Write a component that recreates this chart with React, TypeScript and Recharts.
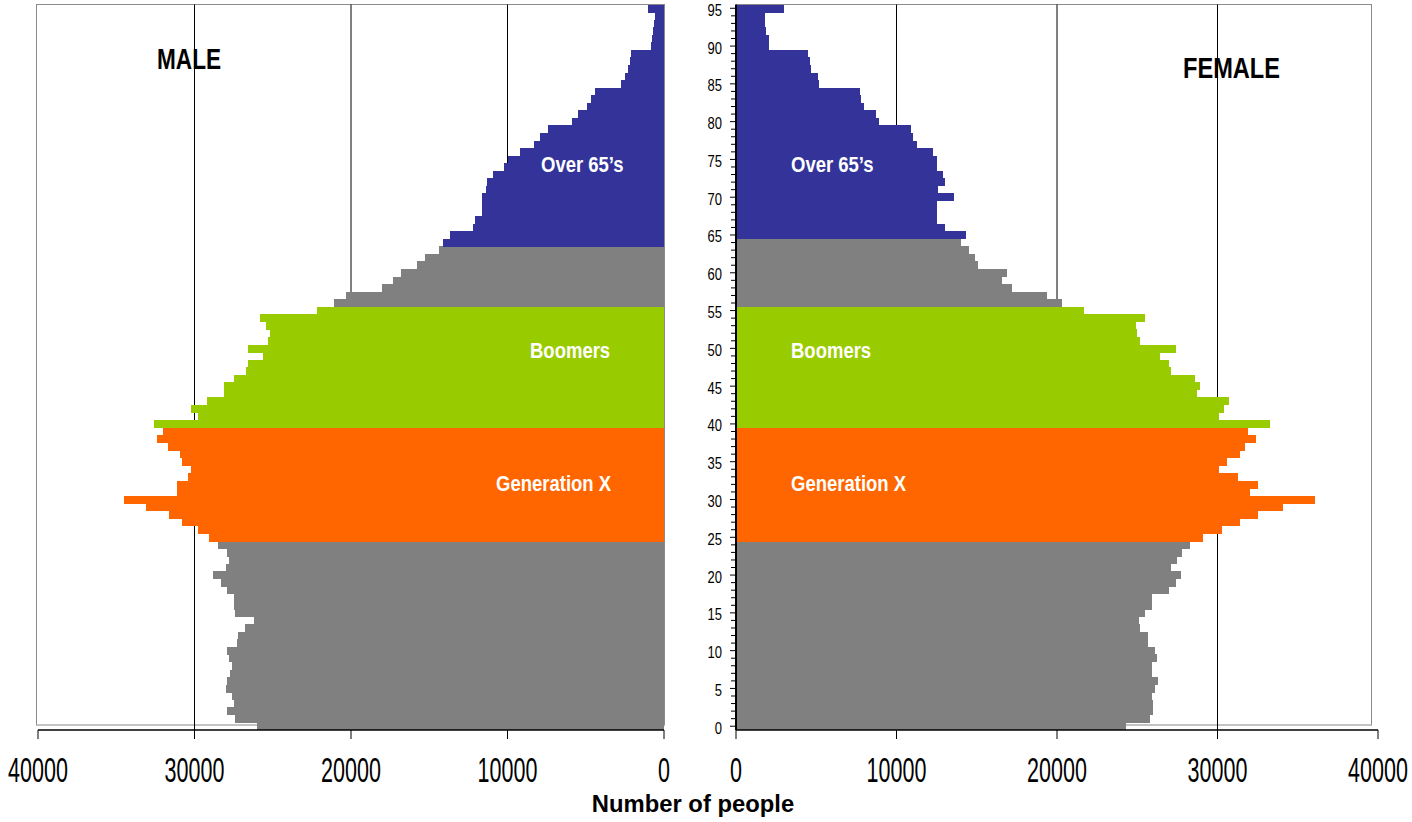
import React from 'react';
import { BarChart, Bar, XAxis, YAxis, CartesianGrid, Cell } from 'recharts';

// ages 0..95, bottom to top
const ages = [
  0, 1, 2, 3, 4, 5, 6, 7, 8, 9,
  10, 11, 12, 13, 14, 15, 16, 17, 18, 19,
  20, 21, 22, 23, 24, 25, 26, 27, 28, 29,
  30, 31, 32, 33, 34, 35, 36, 37, 38, 39,
  40, 41, 42, 43, 44, 45, 46, 47, 48, 49,
  50, 51, 52, 53, 54, 55, 56, 57, 58, 59,
  60, 61, 62, 63, 64, 65, 66, 67, 68, 69,
  70, 71, 72, 73, 74, 75, 76, 77, 78, 79,
  80, 81, 82, 83, 84, 85, 86, 87, 88, 89,
  90, 91, 92, 93, 94, 95,
];

const maleCounts = [
  26000, 27400, 27900, 27500, 27600, 28000, 27900, 27700, 27600, 27800,
  27900, 27300, 27200, 26800, 26200, 27400, 27500, 27500, 27900, 28300,
  28800, 28000, 27800, 27900, 28500, 29100, 29800, 30800, 31600, 33100,
  34500, 31100, 31100, 30400, 30200, 30800, 30900, 31700, 32400, 32000,
  32600, 29800, 30200, 29200, 28100, 28100, 27500, 26700, 26600, 25600,
  26600, 25300, 25200, 25400, 25800, 22200, 21100, 20300, 18000, 17300,
  16800, 15800, 15300, 14400, 14100, 13700, 12200, 12100, 11600, 11600,
  11600, 11400, 11300, 10900, 10200, 10000, 9200, 8300, 7900, 7400,
  5900, 5500, 4900, 4650, 4400, 2750, 2500, 2300, 2170, 2100,
  860, 780, 730, 650, 600, 1000,
];

const femaleCounts = [
  24300, 25800, 26000, 26000, 25900, 26100, 26300, 25900, 25900, 26200,
  26100, 25700, 25700, 25200, 25100, 25500, 25900, 25900, 27000, 27400,
  27700, 27100, 27500, 27800, 28300, 29100, 30300, 31400, 32500, 34100,
  36100, 32000, 32500, 31300, 30100, 30600, 31400, 31700, 32400, 31900,
  33300, 30100, 30400, 30700, 28700, 28900, 28600, 27100, 27000, 26400,
  27400, 25200, 25000, 24900, 25500, 21700, 20300, 19400, 17200, 16600,
  16900, 15100, 14900, 14500, 14000, 14300, 13000, 12500, 12500, 12500,
  13600, 12600, 13000, 12900, 12500, 12500, 12300, 11300, 11000, 10900,
  8900, 8700, 8000, 7800, 7700, 5200, 5100, 4700, 4600, 4500,
  2060, 2060, 1900, 1830, 1830, 3000,
];

const xTicks = [0, 10000, 20000, 30000, 40000];
const gridValues = [10000, 20000, 30000];
const ageLabels = [0, 5, 10, 15, 20, 25, 30, 35, 40, 45, 50, 55, 60, 65, 70, 75, 80, 85, 90, 95];

// generation bands (inclusive ages)
const genXAges = [25, 39];
const boomerAges = [40, 55];
const maleOver65From = 64;
const femaleOver65From = 65;

const COLORS = {
  other: '#808080',
  genX: '#FF6600',
  boomers: '#99CC00',
  over65: '#333399',
};

const FONT = '"Liberation Sans", Arial, sans-serif';

const rows = ages.map((age, i) => ({ age, male: maleCounts[i], female: femaleCounts[i] }));

const colorFor = (age: number, over65From: number) => {
  if (age >= over65From) return COLORS.over65;
  if (age >= boomerAges[0] && age <= boomerAges[1]) return COLORS.boomers;
  if (age >= genXAges[0] && age <= genXAges[1]) return COLORS.genX;
  return COLORS.other;
};

const XTick = ({ x, y, payload }: any) => (
  <text
    transform={`translate(${x},${y + 43}) scale(1,1.62)`}
    textAnchor="middle"
    fontSize={21.5}
    fontFamily={FONT}
    fill="#000"
  >
    {payload.value}
  </text>
);

const AgeTick = ({ x, y, payload }: any) => {
  const major = ageLabels.includes(payload.value);
  return (
    <g>
      <line x1={x - (major ? 6 : 5)} x2={x} y1={y} y2={y} stroke="#000" strokeWidth={1} />
      {major && (
        <text
          transform={`translate(${x - 14},${y + 7.5}) scale(1,1.3)`}
          textAnchor="end"
          fontSize={13}
          fontFamily={FONT}
          fill="#000"
        >
          {payload.value}
        </text>
      )}
    </g>
  );
};

const boxStyle = (left: number, width: number): React.CSSProperties => ({
  position: 'absolute',
  left,
  top: 4,
  width,
  height: 722,
  boxSizing: 'border-box',
  borderTop: '1px solid #8a8a8a',
  borderLeft: '1px solid #8a8a8a',
  borderRight: '1px solid #8a8a8a',
  borderBottom: '2px solid #c4c4c4',
  zIndex: 0,
});

const whiteLabel = { fill: '#fff', fontFamily: FONT, fontWeight: 700, fontSize: 18.5 };

export default function App() {
  return (
    <div style={{ position: 'absolute', left: 0, top: 0, width: 1412, height: 822, background: '#fff' }}>
      <div style={boxStyle(36, 629)} />
      <div style={boxStyle(736, 636)} />

      {/* male */}
      <div style={{ position: 'absolute', left: 0, top: 0, zIndex: 1 }}>
        <BarChart
          width={680}
          height={822}
          data={rows}
          layout="vertical"
          margin={{ top: 4.5, right: 16, bottom: 32, left: 38 }}
          barCategoryGap={0}
          barGap={0}
        >
          <CartesianGrid horizontal={false} stroke="#000" verticalValues={gridValues} />
          <XAxis
            type="number"
            domain={[0, 40000]}
            ticks={xTicks}
            interval={0}
            reversed
            height={60}
            tickSize={9}
            tickMargin={0}
            tickLine={{ stroke: '#000' }}
            axisLine={{ stroke: '#000', strokeWidth: 1.5 }}
            tick={(p: any) => <XTick {...p} />}
          />
          <YAxis type="category" dataKey="age" reversed hide />
          <Bar dataKey="male" isAnimationActive={false} shapeRendering="crispEdges">
            {rows.map((r) => (
              <Cell key={r.age} fill={colorFor(r.age, maleOver65From)} shapeRendering="crispEdges" />
            ))}
          </Bar>
        </BarChart>
      </div>

      {/* female */}
      <div style={{ position: 'absolute', left: 676, top: 0, zIndex: 1 }}>
        <BarChart
          width={736}
          height={822}
          data={rows}
          layout="vertical"
          margin={{ top: 4.5, right: 34, bottom: 32, left: 0 }}
          barCategoryGap={0}
          barGap={0}
        >
          <CartesianGrid horizontal={false} stroke="#000" verticalValues={gridValues} />
          <XAxis
            type="number"
            domain={[0, 40000]}
            ticks={xTicks}
            interval={0}
            height={60}
            tickSize={9}
            tickMargin={0}
            tickLine={{ stroke: '#000' }}
            axisLine={{ stroke: '#000', strokeWidth: 1.5 }}
            tick={(p: any) => <XTick {...p} />}
          />
          <YAxis
            type="category"
            dataKey="age"
            reversed
            width={60}
            interval={0}
            tickSize={0}
            tickMargin={0}
            tickLine={false}
            axisLine={{ stroke: '#000', strokeWidth: 2 }}
            tick={(p: any) => <AgeTick {...p} />}
          />
          <Bar dataKey="female" isAnimationActive={false} shapeRendering="crispEdges">
            {rows.map((r) => (
              <Cell key={r.age} fill={colorFor(r.age, femaleOver65From)} shapeRendering="crispEdges" />
            ))}
          </Bar>
        </BarChart>
      </div>

      {/* free text */}
      <svg width={1412} height={822} style={{ position: 'absolute', left: 0, top: 0, zIndex: 2, pointerEvents: 'none' }}>
        <text transform="translate(157,69) scale(1,1.3)" fontFamily={FONT} fontWeight={700} fontSize={22.6}>MALE</text>
        <text transform="translate(1183,78) scale(1,1.25)" fontFamily={FONT} fontWeight={700} fontSize={23.6}>FEMALE</text>

        <text transform="translate(541,172) scale(1,1.2)" {...whiteLabel}>Over 65’s</text>
        <text transform="translate(530,358) scale(1,1.2)" {...whiteLabel}>Boomers</text>
        <text transform="translate(496,491) scale(1,1.2)" {...whiteLabel}>Generation X</text>

        <text transform="translate(791,172) scale(1,1.2)" {...whiteLabel}>Over 65’s</text>
        <text transform="translate(791,358) scale(1,1.2)" {...whiteLabel}>Boomers</text>
        <text transform="translate(791,491) scale(1,1.2)" {...whiteLabel}>Generation X</text>

        <text x={693} y={812} textAnchor="middle" fontFamily={FONT} fontWeight={700} fontSize={23.8}>
          Number of people
        </text>
      </svg>
    </div>
  );
}
